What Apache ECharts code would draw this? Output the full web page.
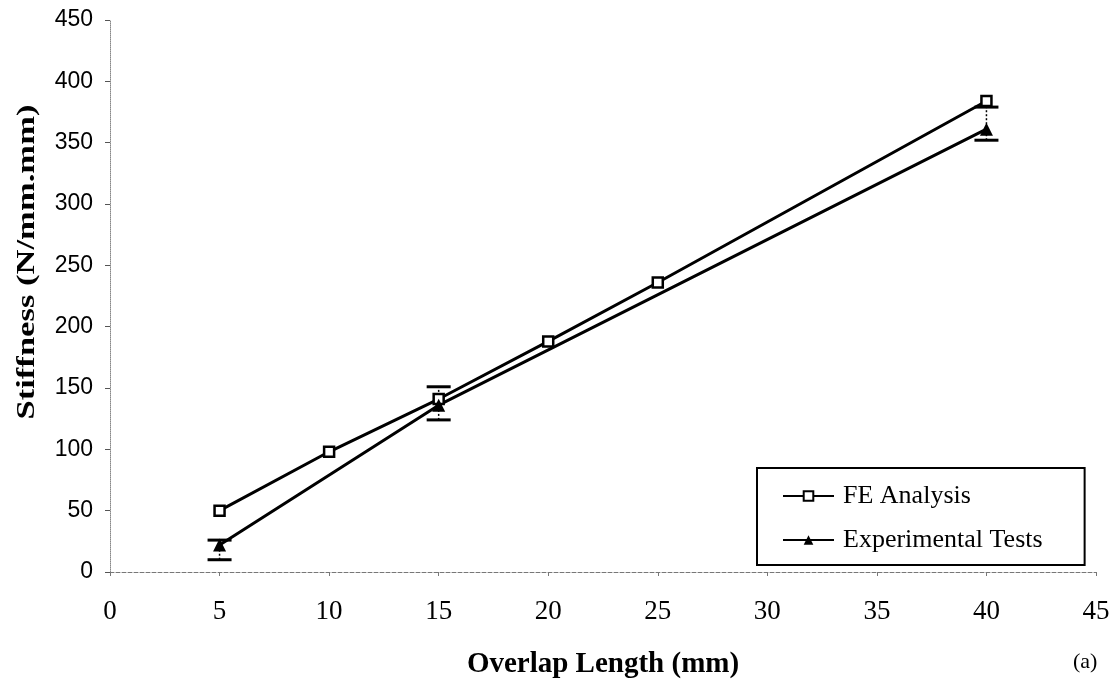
<!DOCTYPE html>
<html><head><meta charset="utf-8">
<script src="https://cdn.jsdelivr.net/npm/echarts@6/dist/echarts.min.js"></script>
<style>html,body{margin:0;padding:0;background:#fff}#c{width:1117px;height:684px}</style>
</head><body><div id="c"></div>
<script>
const feX = [5, 10, 15, 20, 25, 40];
const feY = [50, 98, 141, 188, 236, 384];
const expX = [5, 15, 40];
const expY = [22, 136, 361];
const errLow = [10, 124, 352];
const errHigh = [26, 151, 379];
const xTicks = [0, 5, 10, 15, 20, 25, 30, 35, 40, 45];
const yTicks = [0, 50, 100, 150, 200, 250, 300, 350, 400, 450];
const xTitle = 'Overlap Length (mm)';
const yTitle = 'Stiffness (N/mm.mm)';

const chart = echarts.init(document.getElementById('c'), null, {renderer: 'canvas'});
const serif = '"Liberation Serif", "DejaVu Serif", serif';
chart.setOption({
  backgroundColor: '#fff',
  animation: false,
  grid: {left: 110, right: 21, top: 20, bottom: 112, outerBoundsMode: 'none', containLabel: false},
  xAxis: {
    type: 'value', min: 0, max: 45, interval: 5,
    axisLine: {show: true, lineStyle: {color: '#777', type: 'dashed', width: 1}},
    axisTick: {show: true, length: 4, lineStyle: {color: '#777'}},
    splitLine: {show: false},
    axisLabel: {color: '#000', fontFamily: serif, fontSize: 27, margin: 26,
      formatter: v => xTicks.includes(v) ? String(v) : ''},
    name: xTitle, nameLocation: 'middle', nameGap: 78,
    nameTextStyle: {color: '#000', fontFamily: serif, fontSize: 29, fontWeight: 'bold'}
  },
  yAxis: {
    type: 'value', min: 0, max: 450, interval: 50,
    axisLine: {show: true, lineStyle: {color: '#888', type: 'dotted', width: 1}},
    axisTick: {show: true, length: 5, lineStyle: {color: '#555'}},
    splitLine: {show: false},
    axisLabel: {color: '#000', fontFamily: '"Liberation Sans", "DejaVu Sans", sans-serif', fontSize: 23, margin: 17,
      formatter: v => yTicks.includes(v) ? String(v) : ''}
  },
  legend: {
    show: true, orient: 'vertical', left: 757, top: 468,
    padding: [15, 42, 12, 25], itemGap: 18, itemWidth: 51, itemHeight: 12,
    borderColor: '#000', borderWidth: 2, backgroundColor: '#fff',
    textStyle: {color: '#000', fontFamily: serif, fontSize: 26, lineHeight: 26, padding: [0, 0, 0, 4]},
    data: ['FE Analysis', 'Experimental Tests']
  },
  series: [
    {
      name: 'FE Analysis', type: 'line', data: feX.map((x, i) => [x, feY[i]]),
      symbol: 'rect', symbolSize: 10, showAllSymbol: true,
      lineStyle: {color: '#000', width: 3},
      itemStyle: {color: '#fff', borderColor: '#000', borderWidth: 2.5}, z: 3
    },
    {
      name: 'Experimental Tests', type: 'line', data: expX.map((x, i) => [x, expY[i]]),
      symbol: 'triangle', symbolSize: 13,
      lineStyle: {color: '#000', width: 3},
      itemStyle: {color: '#000'}, z: 3
    },
    {
      name: 'err', type: 'custom',
      data: expX.map((x, i) => [x, errLow[i], errHigh[i]]),
      renderItem: (params, api) => {
        const lo = api.coord([api.value(0), api.value(1)]);
        const hi = api.coord([api.value(0), api.value(2)]);
        const hw = 12;
        return {type: 'group', children: [
          {type: 'line', shape: {x1: lo[0], y1: lo[1], x2: hi[0], y2: hi[1]}, style: {stroke: '#000', lineWidth: 1.5, lineDash: [2, 2]}},
          {type: 'line', shape: {x1: lo[0]-hw, y1: lo[1], x2: lo[0]+hw, y2: lo[1]}, style: {stroke: '#000', lineWidth: 3}},
          {type: 'line', shape: {x1: hi[0]-hw, y1: hi[1], x2: hi[0]+hw, y2: hi[1]}, style: {stroke: '#000', lineWidth: 3}}
        ]};
      },
      z: 2, silent: true
    }
  ],
  graphic: [
    {type: 'text', x: 27, y: 262, rotation: Math.PI / 2, scaleX: 1.33,
      style: {text: yTitle, fill: '#000', font: 'bold 26px "Liberation Serif", serif', align: 'center', verticalAlign: 'middle'}},
    {type: 'text', left: 1073, top: 651, style: {text: '(a)', fill: '#000', font: '22px "Liberation Serif", serif'}}
  ]
});
</script></body></html>
